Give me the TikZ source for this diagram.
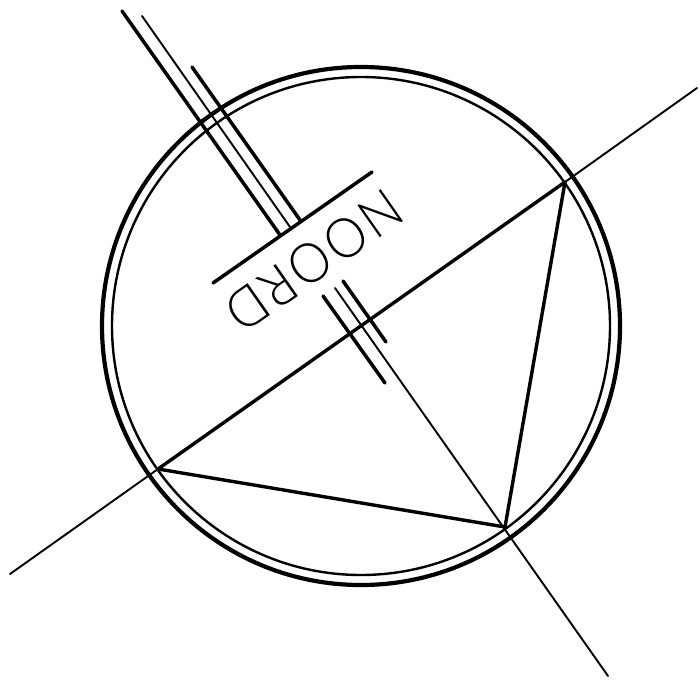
\documentclass[tikz,border=0pt]{standalone}
\usepackage{fontspec}
\newfontfamily\noordfont{Lato}[UprightFont=* Light, FakeStretch=0.94, LetterSpace=5]
\usetikzlibrary{positioning, calc}

\begin{document}
\begin{tikzpicture}[
  x=1pt, y=-1pt,
  heavy/.style={line width=3.5pt, line cap=round, color=black},
  medium/.style={line width=3.4pt, line cap=round, color=black},
  fine/.style={line width=1.9pt, line cap=round, color=black},
  rim/.style={line width=4.2pt, color=black},
  innerrim/.style={line width=2.4pt, color=black},
  northlabel/.style={font=\noordfont\fontsize{55}{55}\selectfont, inner sep=0pt, rotate=215}
]
\useasboundingbox (0,0) rectangle (700,679);

% Ring
\coordinate (centre) at (361,326);
\draw[rim] (centre) circle (259);
\draw[innerrim] (centre) circle (249);

% Triangle corners
\coordinate (west) at (158,469);
\coordinate (south) at (505,527);
\coordinate (east) at (565,182);
\draw[medium, line join=round] (west) -- (east) -- (south) -- cycle;

% Long axis
\coordinate (axisstart) at (10,574);
\coordinate (axisend) at (697,88);
\draw[fine] (axisstart) -- (west);
\draw[fine] (east) -- (axisend);

% Needle above the bar
\coordinate (tailleftA) at (122,11);
\coordinate (tailleftB) at (280,235);
\coordinate (tailrightA) at (192,67);
\coordinate (tailrightB) at (300,220);
\coordinate (tailmidA) at (142,16);
\coordinate (tailmidB) at (290,227);
\draw[heavy] (tailleftA) -- (tailleftB);
\draw[heavy] (tailrightA) -- (tailrightB);
\draw[fine] (tailmidA) -- (tailmidB);

% Bar
\coordinate (barwest) at (213,283);
\coordinate (bareast) at (372,172);
\draw[heavy] (barwest) -- (bareast);

% Needle below the bar
\coordinate (headleftA) at (323,296);
\coordinate (headleftB) at (385,383);
\coordinate (headrightA) at (343,281);
\coordinate (headrightB) at (386,342);
\coordinate (headmid) at (335,288);
\coordinate (headend) at (608,676);
\draw[heavy] (headleftA) -- (headleftB);
\draw[heavy] (headrightA) -- (headrightB);
\draw[fine] (headmid) -- (headend);

% Label
\node[northlabel] (noord) at (314,261) {NOORD};

\end{tikzpicture}
\end{document}
